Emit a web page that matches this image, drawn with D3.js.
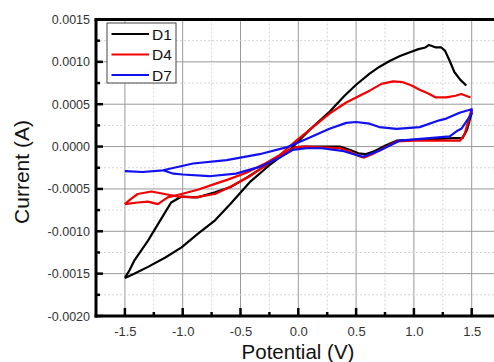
<!DOCTYPE html>
<html><head><meta charset="utf-8">
<script src="https://cdn.jsdelivr.net/npm/d3@7"></script>
<style>body{margin:0;background:#fff}svg{display:block}</style>
</head><body>
<svg id="c" width="494" height="362"></svg>
<script>
const seriesNames = ["D1", "D4", "D7"];
const seriesColors = ["#000000", "#f00000", "#1010f0"];
const xTicks = [-1.5, -1.0, -0.5, 0.0, 0.5, 1.0, 1.5];
const yTicks = [-0.0020, -0.0015, -0.0010, -0.0005, 0.0000, 0.0005, 0.0010, 0.0015];
const xLabels = ["-1.5", "-1.0", "-0.5", "0.0", "0.5", "1.0", "1.5"];
const yLabels = ["-0.0020", "-0.0015", "-0.0010", "-0.0005", "0.0000", "0.0005", "0.0010", "0.0015"];

// each loop: forward scan then reverse scan; reverseStart = index where the reverse scan begins
const d1V = [-1.50,-1.46,-1.416,-1.30,-1.185,-1.10,-1.01,-0.87,-0.72,-0.59,-0.45,-0.30,-0.15,-0.04,0.05,0.20,0.36,0.45,0.52,0.58,0.65,0.75,0.85,1.00,1.20,1.35,1.42,1.46,1.50,
  1.453,1.40,1.35,1.31,1.27,1.237,1.19,1.15,1.13,1.10,1.04,0.96,0.88,0.79,0.70,0.617,0.50,0.40,0.27,0.10,-0.075,-0.25,-0.42,-0.59,-0.72,-0.87,-1.01,-1.15,-1.30,-1.42,-1.50];
const d1I = [-0.00155,-0.00146,-0.00134,-0.00111,-0.00085,-0.00066,-0.00059,-0.00060,-0.00054,-0.00048,-0.00037,-0.00024,-0.00011,-0.00001,0.00000,0.00000,0.00000,-0.00004,-0.00008,-0.00009,-0.00006,0.00001,0.00007,0.00008,0.00009,0.00010,0.00010,0.00020,0.00040,
  0.00072,0.00079,0.00088,0.00101,0.00113,0.00117,0.00117,0.00119,0.00120,0.00117,0.00115,0.00111,0.00107,0.00101,0.00094,0.00086,0.00073,0.00060,0.00041,0.00020,-0.00004,-0.00022,-0.00042,-0.00068,-0.00087,-0.00103,-0.00119,-0.00131,-0.00142,-0.00150,-0.00155];

const d4V = [-1.50,-1.45,-1.39,-1.27,-1.157,-1.04,-0.897,-0.72,-0.566,-0.42,-0.28,-0.14,-0.03,0.05,0.20,0.36,0.45,0.52,0.57,0.64,0.75,0.85,1.00,1.20,1.40,1.44,1.50,
  1.49,1.45,1.41,1.36,1.28,1.19,1.12,1.05,0.98,0.905,0.82,0.72,0.617,0.56,0.415,0.27,0.126,-0.017,-0.16,-0.30,-0.45,-0.61,-0.72,-0.87,-1.01,-1.13,-1.215,-1.30,-1.39,-1.50];
const d4I = [-0.00068,-0.00062,-0.00056,-0.00053,-0.00056,-0.00059,-0.00060,-0.00056,-0.00046,-0.00035,-0.00022,-0.00009,-0.00001,0.00000,-0.00001,-0.00002,-0.00006,-0.00011,-0.00013,-0.00009,-0.00001,0.00006,0.00007,0.00007,0.00007,0.00015,0.00045,
  0.00058,0.00060,0.00062,0.00060,0.00058,0.00058,0.00063,0.00067,0.00072,0.00076,0.00077,0.00074,0.00066,0.00062,0.00052,0.00039,0.00023,0.00007,-0.00010,-0.00021,-0.00031,-0.00039,-0.00044,-0.00051,-0.00056,-0.00060,-0.00068,-0.00065,-0.00066,-0.00068];

const d7V = [-1.50,-1.35,-1.17,-1.08,-1.00,-0.77,-0.54,-0.335,-0.16,-0.05,0.07,0.20,0.38,0.50,0.56,0.70,0.876,1.135,1.31,1.38,1.41,1.50,
  1.50,1.395,1.28,1.22,1.05,0.85,0.70,0.617,0.50,0.415,0.27,0.07,-0.105,-0.335,-0.62,-0.91,-1.17,-1.345,-1.50];
const d7I = [-0.00029,-0.00030,-0.00028,-0.00032,-0.00033,-0.00035,-0.00032,-0.00024,-0.00013,-0.00004,-0.00002,-0.00002,-0.00005,-0.00010,-0.00012,-0.00005,0.00007,0.00010,0.00012,0.00019,0.00021,0.00039,
  0.00044,0.00040,0.00033,0.00031,0.00023,0.00021,0.00023,0.00027,0.00029,0.00028,0.00021,0.00009,-0.00001,-0.00009,-0.00016,-0.00020,-0.00028,-0.00030,-0.00029];

const seriesV = [d1V, d4V, d7V];
const seriesI = [d1I, d4I, d7I];
const reverseStart = [29, 27, 22];
const reverseJoined = [false, false, true];

const svg = d3.select("#c");
const L = 96, T = 19.5, B = 316;
const x = d3.scaleLinear().domain([-1.75, 1.75]).range([L, L + 3.5 * 115.6]);
const y = d3.scaleLinear().domain([-0.0020, 0.0015]).range([B, T]);

const font = "'Liberation Sans', Arial, sans-serif";

// grid
const g = svg.append("g");
const xMinor = d3.range(-1.75, 1.76, 0.25);
const yMinor = d3.range(-0.00175, 0.0015, 0.0005);
xMinor.forEach(v => {
  const isMajor = Math.abs(Math.round(v * 2) - v * 2) < 1e-6;
  g.append("line").attr("x1", x(v)).attr("x2", x(v)).attr("y1", T).attr("y2", B)
    .attr("stroke", isMajor ? "#999" : "#d4d4d4").attr("stroke-width", 1)
    .attr("stroke-dasharray", isMajor ? null : "2,2");
});
yTicks.forEach(v => {
  g.append("line").attr("x1", L).attr("x2", 494).attr("y1", y(v)).attr("y2", y(v))
    .attr("stroke", "#999").attr("stroke-width", 1);
});
yMinor.forEach(v => {
  g.append("line").attr("x1", L).attr("x2", 494).attr("y1", y(v)).attr("y2", y(v))
    .attr("stroke", "#d4d4d4").attr("stroke-width", 1).attr("stroke-dasharray", "2,2");
});

// series
const line = d3.line().x(d => x(d[0])).y(d => y(d[1]));
seriesV.forEach((vs, k) => {
  const pts = vs.map((v, i) => [v, seriesI[k][i]]);
  const r = reverseStart[k];
  const parts = reverseJoined[k] ? [pts] : [pts.slice(0, r), pts.slice(r)];
  parts.forEach(p => {
    svg.append("path").attr("d", line(p)).attr("fill", "none")
      .attr("stroke", seriesColors[k]).attr("stroke-width", 2.2).attr("stroke-linejoin", "round");
  });
});

// axes
const yAxis = d3.axisLeft(y).tickValues(yTicks).tickFormat((d, i) => yLabels[i]).tickSize(0).tickPadding(6);
const ya = svg.append("g").attr("transform", `translate(${L},0)`).call(yAxis);
ya.select(".domain").remove();
ya.selectAll("text").attr("font-family", font).attr("font-size", 12.5).attr("fill", "#333");

const xAxis = d3.axisBottom(x).tickValues(xTicks).tickFormat((d, i) => xLabels[i]).tickSize(0).tickPadding(11);
const xa = svg.append("g").attr("transform", `translate(0,${B})`).call(xAxis);
xa.select(".domain").remove();
xa.selectAll("text").attr("font-family", font).attr("font-size", 13).attr("fill", "#333");

// tick marks (inside)
yTicks.forEach(v => svg.append("line").attr("x1", L).attr("x2", L + 7).attr("y1", y(v)).attr("y2", y(v)).attr("stroke", "#000").attr("stroke-width", 2.5));
yMinor.forEach(v => svg.append("line").attr("x1", L).attr("x2", L + 4).attr("y1", y(v)).attr("y2", y(v)).attr("stroke", "#000").attr("stroke-width", 2.5));
xTicks.forEach(v => svg.append("line").attr("x1", x(v)).attr("x2", x(v)).attr("y1", B).attr("y2", B - 8).attr("stroke", "#000").attr("stroke-width", 2.5));
d3.range(-1.25, 1.76, 0.5).forEach(v => svg.append("line").attr("x1", x(v)).attr("x2", x(v)).attr("y1", B).attr("y2", B - 4).attr("stroke", "#000").attr("stroke-width", 2.5));

// frame
svg.append("line").attr("x1", L - 1.5).attr("x2", 494).attr("y1", T).attr("y2", T).attr("stroke", "#000").attr("stroke-width", 3);
svg.append("line").attr("x1", L).attr("x2", L).attr("y1", T).attr("y2", B + 1.5).attr("stroke", "#000").attr("stroke-width", 3);
svg.append("line").attr("x1", L - 1.5).attr("x2", 494).attr("y1", B).attr("y2", B).attr("stroke", "#000").attr("stroke-width", 3);

// axis titles
svg.append("text").attr("x", 298).attr("y", 359).attr("text-anchor", "middle")
  .attr("font-family", font).attr("font-size", 20.5).attr("fill", "#111").text("Potential (V)");
svg.append("text").attr("transform", "translate(29,172) rotate(-90)").attr("text-anchor", "middle")
  .attr("font-family", font).attr("font-size", 21).attr("fill", "#111").text("Current (A)");

// legend
const lg = svg.append("g");
lg.append("rect").attr("x", 107).attr("y", 23).attr("width", 69).attr("height", 60)
  .attr("fill", "#fff").attr("stroke", "#444").attr("stroke-width", 1);
seriesNames.forEach((n, i) => {
  const yy = 34 + i * 20.5;
  lg.append("line").attr("x1", 111.5).attr("x2", 149).attr("y1", yy).attr("y2", yy)
    .attr("stroke", seriesColors[i]).attr("stroke-width", 2.2);
  lg.append("text").attr("x", 152).attr("y", yy + 5.5).attr("font-family", font)
    .attr("font-size", 15.5).attr("fill", "#111").text(n);
});
</script>
</body></html>
